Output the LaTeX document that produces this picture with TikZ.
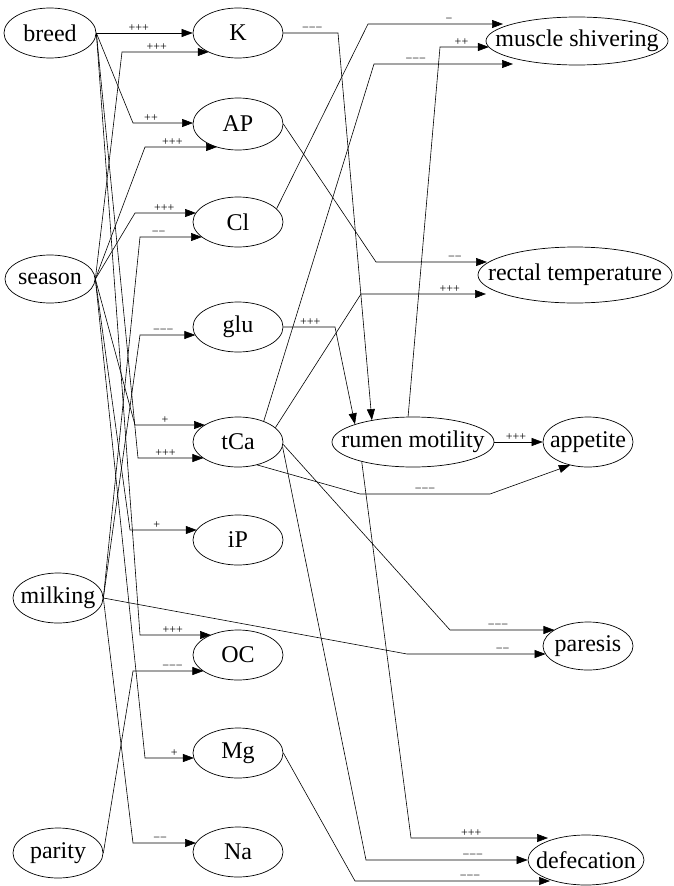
\documentclass[tikz,border=0pt]{standalone}
\usepackage{fontspec}
\setmainfont{Liberation Serif}
\usetikzlibrary{calc,shapes.geometric,arrows.meta}
\newcommand{\hx}[3]{-#1*sqrt(1-(#3/#2)^2)}
\begin{document}
\begin{tikzpicture}[x=1pt,y=-1pt,
  ell/.style n args={3}{ellipse,draw,line width=.7pt,minimum width=#1pt,minimum height=#2pt,inner sep=0pt,
     label={[font=\fontsize{24}{28}\selectfont,inner sep=0pt]center:#3}},
  edge/.style={draw,line width=.6pt,-{Triangle[length=11pt,width=8pt]}},
  lab/.style={font=\fontsize{12}{12}\selectfont,above,inner sep=1.5pt}]
\useasboundingbox (0,0) rectangle (673,886);
% sources
\node[ell={92}{50}{breed}]   (breed)   at (50,33) {};
\node[ell={90}{48}{season}]  (season)  at (50,279) {};
\node[ell={90}{50}{milking}] (milking) at (58,598) {};
\node[ell={90}{50}{parity}]  (parity)  at (58,853) {};
% middle column
\node[ell={90}{50}{K}]   (K)   at (238,33) {};
\node[ell={90}{52}{AP}]  (AP)  at (238,124) {};
\node[ell={90}{50}{Cl}]  (Cl)  at (238,222) {};
\node[ell={90}{50}{glu}] (glu) at (238,327) {};
\node[ell={90}{50}{tCa}] (tCa) at (238,442) {};
\node[ell={90}{50}{iP}]  (iP)  at (238,540) {};
\node[ell={90}{50}{OC}]  (OC)  at (238,655) {};
\node[ell={90}{50}{Mg}]  (Mg)  at (238,753) {};
\node[ell={90}{50}{Na}]  (Na)  at (238,852) {};
% right side
\node[ell={182}{48}{muscle shivering}]   (ms) at (577,41) {};
\node[ell={194}{56}{rectal temperature}] (rt) at (575,275) {};
\node[ell={162}{50}{rumen motility}]     (rm) at (413,442) {};
\node[ell={90}{50}{appetite}]            (ap) at (588,442) {};
\node[ell={90}{48}{paresis}]             (pa) at (588,646) {};
\node[ell={116}{50}{defecation}]         (de) at (586,860) {};
% left edges
\draw[edge] (breed.east) -- node[lab,pos=.44] (l1) {+++} (K.west);
\draw[edge] (season.east) -- (122,52) -- node[lab,pos=.4] (l2) {+++} ($(K)+({\hx{45}{25}{19}},19)$);
\draw[edge] (breed.east) -- (133,123) -- node[lab,pos=.3] (l3) {++} ($(AP)+({\hx{45}{26}{-1}},-1)$);
\draw[edge] (season.east) -- (145,147) -- node[lab,pos=.38] (l4) {+++} ($(AP)+({\hx{45}{26}{23}},23)$);
\draw[edge] (season.east) -- (135,213) -- node[lab,pos=.48] (l5) {+++} ($(Cl)+({\hx{45}{25}{-9}},-9)$);
\draw[edge] (milking.east) -- (140,237) -- node[lab,pos=.3] (l6) {−−} ($(Cl)+({\hx{45}{25}{15}},15)$);
\draw[edge] (milking.east) -- (140,335) -- node[lab,pos=.42] (l7) {−−−} ($(glu)+({\hx{45}{25}{8}},8)$);
\draw[edge] (season.east) -- (135,425) -- node[lab,pos=.43] (l8) {+} ($(tCa)+({\hx{45}{25}{-17}},-17)$);
\draw[edge] (breed.east) -- (138,458) -- node[lab,pos=.42] (l9) {+++} ($(tCa)+({\hx{45}{25}{16}},16)$);
\draw[edge] (season.east) -- (130,530) -- node[lab,pos=.4] (l10) {+} ($(iP)+({\hx{45}{25}{-10}},-10)$);
\draw[edge] (breed.east) -- (140,635) -- node[lab,pos=.46] (l11) {+++} ($(OC)+({\hx{45}{25}{-20}},-20)$);
\draw[edge] (parity.east) -- (133,671) -- node[lab,pos=.56] (l12) {−−−} ($(OC)+({\hx{45}{25}{16}},16)$);
\draw[edge] (season.east) -- (145,758) -- node[lab,pos=.6] (l13) {+} ($(Mg)+({\hx{45}{25}{5}},5)$);
\draw[edge] (milking.east) -- (133,843) -- node[lab,pos=.43] (l14) {−−} ($(Na)+({\hx{45}{25}{-9}},-9)$);
% right edges
\draw[edge] (K.east) -- node[lab,pos=.53] (l15) {−−−} (338,33) -- (rm.152);
\draw[edge] (glu.east) -- node[lab,pos=.52] (l16) {+++} (335,327) -- (rm.163);
\draw[edge] (rm.101) -- (440,47) -- node[lab,pos=.44] (l17) {++} ($(ms)+({\hx{91}{24}{6}},6)$);
\draw[edge] (Cl.19) -- (368,24) -- node[lab,pos=.6] (l18) {−} ($(ms)+(-74,-17)$);
\draw[edge] (tCa.39) -- (374,64) -- node[lab,pos=.3] (l19) {−−−} ($(ms)+(-64,23)$);
\draw[edge] (AP.east) -- (376,262) -- node[lab,pos=.71] (l20) {−−} ($(rt)+(-88,-13)$);
\draw[edge] (tCa.21) -- (361,294) -- node[lab,pos=.71] (l21) {+++} ($(rt)+(-89,19)$);
\draw[edge] (rm.east) -- node[lab,pos=.45] (l22) {+++} (ap.west);
\draw[edge] (tCa.-50) -- (360,494) -- node[lab,pos=.5] (l23) {−−−} (490,494) -- (ap.232);
\draw[edge] (tCa.-3) -- (450,630) -- node[lab,pos=.46] (l24) {−−−} ($(pa)+({\hx{45}{24}{-16}},-16)$);
\draw[edge] (milking.east) -- (407,654) -- node[lab,pos=.69] (l25) {−−} ($(pa)+({\hx{45}{24}{8}},8)$);
\draw[edge] (rm.201) -- (411,838) -- node[lab,pos=.44] (l26) {+++} ($(de)+(-38,-22)$);
\draw[edge] (tCa.-6) -- (366,860) -- node[lab,pos=.66] (l27) {−−−} (de.west);
\draw[edge] (Mg.east) -- (355,881) -- node[lab,pos=.59] (l28) {−−−} ($(de)+(-36,21)$);
\end{tikzpicture}
\end{document}
